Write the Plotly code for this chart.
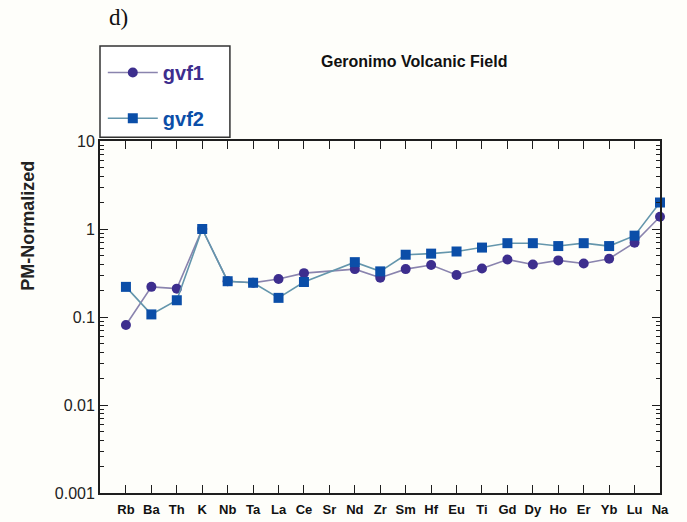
import plotly.graph_objects as go

# Primitive-mantle normalized trace-element pattern, Geronimo Volcanic Field
elements = ["Rb", "Ba", "Th", "K", "Nb", "Ta", "La", "Ce", "Sr", "Nd", "Zr",
            "Sm", "Hf", "Eu", "Ti", "Gd", "Dy", "Ho", "Er", "Yb", "Lu", "Na"]
gvf1 = [0.081, 0.22, 0.21, 1.0, 0.255, 0.245, 0.27, 0.315, None, 0.35, 0.28,
        0.35, 0.39, 0.30, 0.355, 0.45, 0.395, 0.44, 0.405, 0.46, 0.70, 1.38]
gvf2 = [0.22, 0.107, 0.155, 1.0, 0.255, 0.245, 0.165, 0.25, None, 0.42, 0.33,
        0.51, 0.525, 0.555, 0.615, 0.69, 0.69, 0.64, 0.69, 0.64, 0.84, 2.0]
y_ticks = [0.001, 0.01, 0.1, 1, 10]
y_tick_text = ["0.001", "0.01", "0.1", "1", "10"]

# minor log ticks at 2..9 within each decade
minor_vals = [k * 10.0 ** e for e in range(-3, 1) for k in range(2, 10)]

idx = list(range(len(elements)))
BG = "#fefefa"
AXC = "#1e1e1e"
C1 = "#3d2e8e"
C2 = "#0b4ea8"

fig = go.Figure()
fig.add_trace(go.Scatter(
    x=idx, y=gvf1, name="gvf1", mode="lines+markers", connectgaps=True,
    line=dict(color="#8a84ae", width=1.6),
    marker=dict(symbol="circle", size=10, color=C1),
    cliponaxis=False, legend="legend",
))
fig.add_trace(go.Scatter(
    x=idx, y=gvf2, name="gvf2", mode="lines+markers", connectgaps=True,
    line=dict(color="#6496ac", width=1.6),
    marker=dict(symbol="square", size=10, color=C2),
    cliponaxis=False, legend="legend2",
))

fig.update_layout(
    width=687, height=522,
    margin=dict(l=100, r=27, t=141, b=29),
    paper_bgcolor=BG, plot_bgcolor=BG,
    font=dict(family="Liberation Sans, Arial, sans-serif", color=AXC),
    xaxis=dict(
        range=[-1.02, 21], tickvals=idx, ticktext=elements,
        ticks="inside", ticklen=8, tickwidth=1.3, tickcolor=AXC,
        showline=True, linecolor=AXC, linewidth=1.8, mirror="ticks",
        showgrid=False, zeroline=False, ticklabelstandoff=3, automargin=False,
        tickfont=dict(size=13, color="#111", weight="bold"),
    ),
    yaxis=dict(
        type="log", range=[-3, 1], tickvals=y_ticks, ticktext=y_tick_text,
        ticks="inside", ticklen=8, tickwidth=1.3, tickcolor=AXC,
        minor=dict(ticks="inside", ticklen=4, tickwidth=1, tickcolor=AXC,
                   tickvals=minor_vals, showgrid=False),
        showline=True, linecolor=AXC, linewidth=1.8, mirror="ticks",
        showgrid=False, zeroline=False, automargin=False,
        tickfont=dict(size=16, color="#222"),
    ),
    showlegend=True,
    legend=dict(x=0.005, y=1.25, xanchor="left", yanchor="top",
                bgcolor="rgba(0,0,0,0)", borderwidth=0, itemwidth=50,
                font=dict(size=20, color=C1, weight="bold")),
    legend2=dict(x=0.005, y=1.12, xanchor="left", yanchor="top",
                 bgcolor="rgba(0,0,0,0)", borderwidth=0, itemwidth=50,
                 font=dict(size=20, color=C2, weight="bold")),
    shapes=[dict(type="rect", xref="paper", yref="paper",
                 x0=0, x1=0.232, y0=1.011, y1=1.27,
                 line=dict(color="#333", width=1.5), fillcolor="white", layer="below")],
    annotations=[
        dict(text="Geronimo Volcanic Field", xref="paper", yref="paper",
             x=0.56, y=1.225, xanchor="center", yanchor="middle", showarrow=False,
             font=dict(size=16, color="#111", weight="bold")),
        dict(text="d)", xref="paper", yref="paper",
             x=0.012, y=1.35, xanchor="left", yanchor="middle", showarrow=False,
             font=dict(size=23, family="Liberation Serif, Times New Roman, serif", color="#111")),
        dict(text="PM-Normalized", xref="paper", yref="paper",
             x=-0.128, y=0.76, xanchor="center", yanchor="middle", textangle=-90,
             showarrow=False, font=dict(size=18, color="#222", weight="bold")),
    ],
)

fig.write_html("out.html")
